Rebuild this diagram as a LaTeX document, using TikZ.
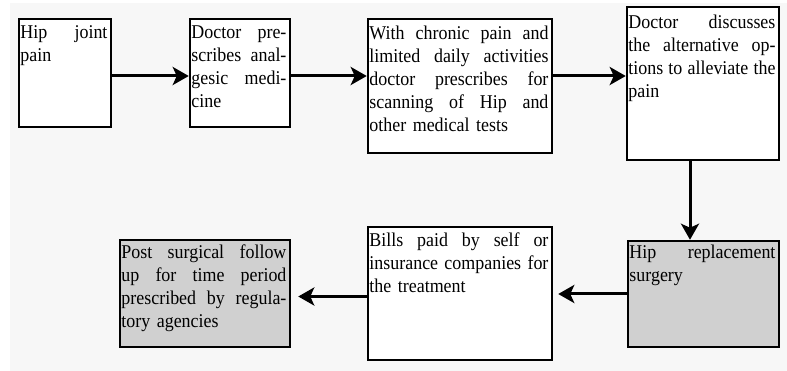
\documentclass[tikz,border=0pt]{standalone}
\usepackage{fontspec}
\setmainfont{Liberation Serif}[FakeStretch=0.92]
\usetikzlibrary{arrows.meta}
\definecolor{pagebg}{HTML}{F7F7F7}
\definecolor{boxgray}{HTML}{D0D0D0}
% one fully justified line of a box text
\newcommand{\jline}[1]{\noindent\hbox to \hsize{\spaceskip=0.25em plus 3em minus 0.08em #1}\par}
% last, left-aligned line of a box text
\newcommand{\lline}[1]{\noindent\hbox to \hsize{#1\hfil}\par}
\tikzset{
  box/.style={draw=black, line width=2.5pt, rectangle, inner sep=0pt},
  grey/.style={box, fill=boxgray},
  plain/.style={box, fill=white},
  txt/.style={anchor=north west, inner xsep=2.5pt, inner ysep=3pt, align=left,
              font=\fontsize{19.5}{23}\selectfont, text width=#1},
  arr/.style={line width=3pt, -{Stealth[length=16pt,width=18pt,inset=4pt]}}
}
\begin{document}
\begin{tikzpicture}[x=1pt, y=-1pt]
\useasboundingbox (0,0) rectangle (787,371);
\fill[pagebg] (10,3) rectangle (787,371);

% process boxes
\node[plain, minimum width=92pt,  minimum height=108pt] (b1) at (65,73) {};
\node[plain, minimum width=100pt, minimum height=108pt] (b2) at (240,73) {};
\node[plain, minimum width=184pt, minimum height=134pt] (b3) at (460,86) {};
\node[plain, minimum width=152pt, minimum height=153pt] (b4) at (703,83.5) {};
\node[grey,  minimum width=151pt, minimum height=106pt] (b5) at (703.5,294) {};
\node[plain, minimum width=184pt, minimum height=133pt] (b6) at (460,293.5) {};
\node[grey,  minimum width=170pt, minimum height=107pt] (b7) at (205,293.5) {};

% box texts
\node[txt=87pt, yshift=-5pt] (t1) at (b1.north west) {\jline{Hip joint}\lline{pain}};
\node[txt=95pt, yshift=-5pt] (t2) at (b2.north west) {\jline{Doctor pre-}\jline{scribes anal-}\jline{gesic medi-}\lline{cine}};
\node[txt=179pt, yshift=-5pt] (t3) at (b3.north west) {\jline{With chronic pain and}\jline{limited daily activities}\jline{doctor prescribes for}\jline{scanning of Hip and}\lline{other medical tests}};
\node[txt=147pt, yshift=-6pt] (t4) at (b4.north west) {\jline{Doctor discusses}\jline{the alternative op-}\jline{tions to alleviate the}\lline{pain}};
\node[txt=146pt, yshift=-2pt] (t5) at (b5.north west) {\jline{Hip replacement}\lline{surgery}};
\node[txt=179pt, yshift=-4pt] (t6) at (b6.north west) {\jline{Bills paid by self or}\jline{insurance companies for}\lline{the treatment}};
\node[txt=165pt, yshift=-3pt] (t7) at (b7.north west) {\jline{Post surgical follow}\jline{up for time period}\jline{prescribed by regula-}\lline{tory agencies}};

% connectors
\draw[arr] ([yshift=-3pt]b1.east) coordinate (s1) -- (s1 -| b2.west);
\draw[arr] ([yshift=-3pt]b2.east) coordinate (s2) -- (s2 -| b3.west);
\draw[arr] (b3.east |- s2) -- (s2 -| b4.west);
\draw[arr] ([xshift=-13pt]b4.south) coordinate (s4) -- (s4 |- b5.north);
\draw[arr, shorten >=5pt] (b5.west) -- (b5.west -| b6.east);
\draw[arr, shorten >=7pt] ([yshift=-3pt]b6.west) coordinate (s6) -- (s6 -| b7.east);
\end{tikzpicture}
\end{document}
